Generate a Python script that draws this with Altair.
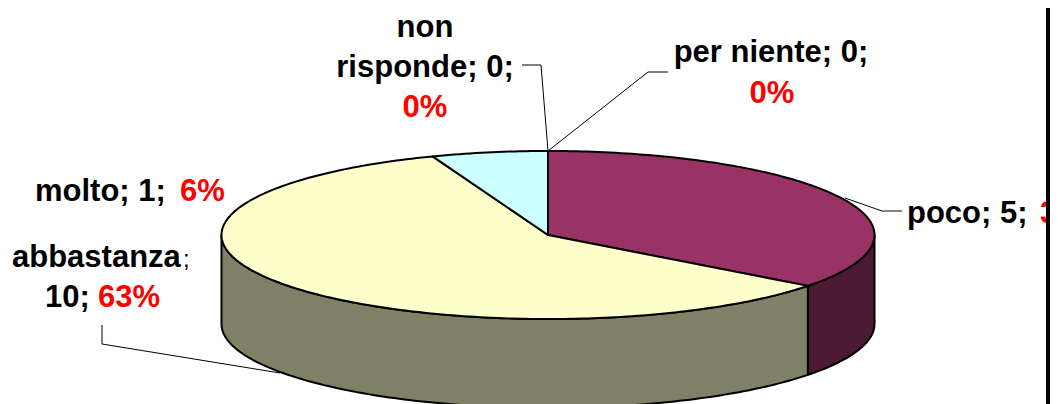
import math
import altair as alt
import pandas as pd

# ---------------- data ----------------
categories = ["per niente", "poco", "abbastanza", "molto", "non risponde"]
counts = [0, 5, 10, 1, 0]
top_colors = ["#9999FF", "#993366", "#FFFFCC", "#CCFFFF", "#660066"]
side_colors = ["#4D4D80", "#4D1A33", "#808066", "#668080", "#330033"]

total = sum(counts)
percents = [f"{int(100 * c / total + 0.5)}%" for c in counts]

# ---------------- geometry (style) ----------------
RX = 326.5            # rim half-width in px (projection scale)
K = 84 / RX           # vertical flattening of the rim
DEPTH = 89 / RX       # height of the side wall
WARP_A, WARP_B = 12.2, -2.28   # angular distortion of the 3-D view
CX, CY = 548, 235     # pie centre on the page
W, H = 1042, 396


def warp(t):
    r = math.radians(t)
    return t + WARP_A * (1 - math.cos(r)) + WARP_B * math.sin(r)


def rim(phi, drop=0.0):
    r = math.radians(phi)
    return [math.sin(r), -math.cos(r) * K + drop]


def arc(p1, p2, drop=0.0):
    n = max(2, int(abs(p2 - p1)) + 2)
    return [rim(p1 + (p2 - p1) * i / (n - 1), drop) for i in range(n)]


def px(x, y):
    return [(x - CX) / RX, (y - CY) / RX]


wall_feats, top_feats = [], []
cum = 0.0
for name, c, tc, sc in zip(categories, counts, top_colors, side_colors):
    t1 = cum / total * 360
    cum += c
    t2 = cum / total * 360
    if c == 0:
        continue
    p1, p2 = warp(t1), warp(t2)
    lo, hi = max(p1, 90), min(p2, 270)
    if hi > lo:
        ring = arc(lo, hi) + arc(hi, lo, DEPTH)
        ring.append(ring[0])
        wall_feats.append({"type": "Feature", "properties": {"fill": sc, "name": name},
                           "geometry": {"type": "Polygon", "coordinates": [ring]}})
    ring = [[0.0, 0.0]] + arc(p1, p2) + [[0.0, 0.0]]
    top_feats.append({"type": "Feature", "properties": {"fill": tc, "name": name},
                      "geometry": {"type": "Polygon", "coordinates": [ring]}})

# leader lines (page px)
leader_pts = {
    "per niente": [(548, 151), (648, 72), (668, 72)],
    "poco": [(845, 198), (882, 211), (902, 211)],
    "abbastanza": [(280, 373), (102, 344), (102, 325)],
    "non risponde": [(548, 151), (541, 65), (522, 65)],
}
leader_feats = [{"type": "Feature", "properties": {"name": k},
                 "geometry": {"type": "LineString", "coordinates": [px(x, y) for x, y in v]}}
                for k, v in leader_pts.items()]

BLACK, RED = "#000000", "#FF0000"
lab = {n: (f"{n}; {c};", p) for n, c, p in zip(categories, counts, percents)}

center_rows = [
    ("non", 425, 37, BLACK),
    (lab["non risponde"][0].replace("non ", ""), 425, 77, BLACK),
    (lab["non risponde"][1], 425, 117, RED),
    (lab["per niente"][0], 771, 62, BLACK),
    (lab["per niente"][1], 772, 103, RED),
]
left_rows = [
    (lab["poco"][0], 907, 223, BLACK),
    (lab["poco"][1], 1040, 223, RED),
    (lab["molto"][0], 35, 201, BLACK),
    (lab["molto"][1], 180, 201, RED),
    ("abbastanza", 12, 267, BLACK),
    (f"{counts[2]};", 45, 307, BLACK),
    (lab["abbastanza"][1], 98, 307, RED),
]
small_rows = [(";", 183, 267, BLACK)]


def text_df(rows):
    return pd.DataFrame([{"text": t, "lon": px(x, y)[0], "lat": px(x, y)[1], "color": col}
                         for t, x, y, col in rows])


proj = dict(type="identity", scale=RX, translate=[CX - 8, CY - 8])

walls = alt.Chart(alt.Data(values=wall_feats)).mark_geoshape(
    stroke="black", strokeWidth=2, strokeJoin="round"
).encode(fill=alt.Fill("properties.fill:N", scale=None)).project(**proj)

tops = alt.Chart(alt.Data(values=top_feats)).mark_geoshape(
    stroke="black", strokeWidth=2, strokeJoin="round"
).encode(fill=alt.Fill("properties.fill:N", scale=None)).project(**proj)

leaders = alt.Chart(alt.Data(values=leader_feats)).mark_geoshape(
    filled=False, stroke="#000000", strokeWidth=1
).project(**proj)


def text_layer(rows, align, size, weight):
    return alt.Chart(text_df(rows)).mark_text(
        font="Liberation Sans", fontSize=size, fontWeight=weight,
        align=align, baseline="alphabetic"
    ).encode(
        longitude="lon:Q", latitude="lat:Q", text="text:N",
        color=alt.Color("color:N", scale=None)
    ).project(**proj)


txt_c = text_layer(center_rows, "center", 31, "bold")
txt_l = text_layer(left_rows, "left", 31, "bold")
txt_s = text_layer(small_rows, "left", 24, "normal")

strip = alt.Chart(pd.DataFrame({"k": [0]})).mark_rect(color="black").encode(
    x=alt.value(W - 4), x2=alt.value(W), y=alt.value(0), y2=alt.value(H)
)

chart = alt.layer(walls, tops, leaders, txt_c, txt_l, txt_s, strip).properties(
    width=W, height=H, autosize=alt.AutoSizeParams(type="none"), padding=0,
    background="white"
).configure_view(strokeWidth=0)

chart.save("out.html", embed_options={"renderer": "svg", "actions": False})
